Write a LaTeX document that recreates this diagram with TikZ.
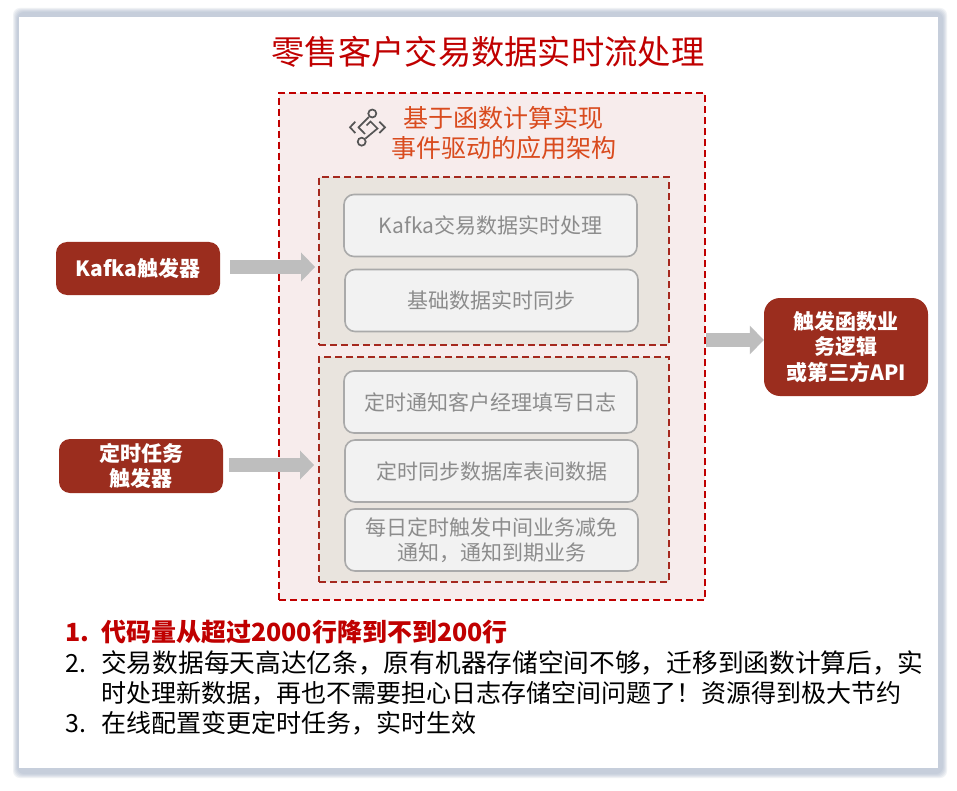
\documentclass[tikz,border=0pt]{standalone}
\usepackage{fontspec}
\setmainfont{Noto Sans CJK SC}
\usepackage{xcolor}
\definecolor{rtred}{RGB}{192,0,0}
\definecolor{rtorange}{RGB}{217,75,30}
\definecolor{rtbrown}{RGB}{155,45,30}
\definecolor{rtdash}{RGB}{165,40,30}
\definecolor{rtpink}{RGB}{247,236,236}
\definecolor{rtsand}{RGB}{233,228,222}
\definecolor{rtgrey}{RGB}{140,140,140}
\definecolor{rtedge}{RGB}{170,170,170}
\definecolor{rtarrow}{RGB}{190,190,190}
\definecolor{rtshadow}{RGB}{150,165,190}
\definecolor{rticon}{RGB}{85,85,85}
\usetikzlibrary{arrows.meta,calc}
\tikzset{
  outerbox/.style={draw=rtred, fill=rtpink, line width=1.8pt, dash pattern=on 7pt off 4pt,
                   minimum width=426pt, minimum height=507pt, inner sep=0pt},
  groupbox/.style={draw=rtdash, fill=rtsand, line width=1.8pt, dash pattern=on 7pt off 4pt,
                   minimum width=350pt, inner sep=0pt},
  taskbox/.style={draw=rtedge, fill=black!5, line width=1.6pt, rounded corners=10pt, text=rtgrey,
                  font=\fontsize{21}{25}\selectfont, align=center,
                  minimum width=293pt, minimum height=62pt, inner sep=0pt},
  trigger/.style={fill=rtbrown, rounded corners=11pt, text=white, align=center,
                  font=\fontsize{21}{25.5}\selectfont\bfseries,
                  minimum width=164pt, inner sep=0pt},
  bigarrow/.style={-{Triangle[length=14pt,width=28pt]}, line width=14pt, rtarrow},
  listtext/.style={anchor=base west, inner sep=0pt, font=\fontsize{25}{30}\selectfont},
  iconline/.style={rticon, line width=1.7pt},
}
\begin{document}
\begin{tikzpicture}[x=1pt, y=-1pt]
\useasboundingbox (0,0) rectangle (957,791);

% Panel and its shadow
\fill[white] (0,0) rectangle (957,791);
\foreach \d in {1,...,5}
  \fill[rtshadow, opacity=0.14, rounded corners=7pt]
    ({12+\d},{7+\d}) rectangle ({948-\d},{779-\d});
\fill[white] (19,17) rectangle (938,768);

% Title
\node[inner sep=0pt, text=rtred, font=\fontsize{33.3}{36}\selectfont] (title) at (488,51.5) {零售客户交易数据实时流处理};

% Dashed frames
\node[outerbox] (outer) at (492,346.5) {};
\node[groupbox, minimum height=168pt] (realgroup) at (494,261) {};
\node[groupbox, minimum height=225pt] (timergroup) at (494,469.5) {};

% Heading
\node[inner sep=0pt, text=rtorange, align=center, font=\fontsize{25}{30}\selectfont] (heading) at (503.5,133)
      {基于函数计算实现\\事件驱动的应用架构};

% Icon
\node[draw=rticon, line width=1.7pt, circle, minimum size=8pt, inner sep=0pt] (icontop) at (372.3,113.5) {};
\node[draw=rticon, line width=1.7pt, circle, minimum size=8pt, inner sep=0pt] (iconbot) at (361.7,141.7) {};
\draw[iconline] (355.3,121.7) -- (350,127.3) -- (355.3,133);
\draw[iconline] (379.3,121.7) -- (385,127.3) -- (379.3,133);
\draw[iconline] (icontop) -- (358.5,127.3) -- (365,134);
\draw[iconline] (iconbot) -- (377.5,128.5) -- (370.5,121.5) -- (366.5,125.5);

% Realtime tasks
\node[taskbox] (kafkatask) at (490.5,225.5) {Kafka交易数据实时处理};
\node[taskbox] (synctask) at (491.5,300.5) {基础数据实时同步};

% Scheduled tasks
\node[taskbox] (logtask) at (490.5,402) {定时通知客户经理填写日志};
\node[taskbox] (dbtask) at (491.5,471) {定时同步数据库表间数据};
\node[taskbox] (duetask) at (491.5,540) {每日定时触发中间业务减免\\通知，通知到期业务};

% Triggers
\node[trigger, minimum height=53pt] (kafka) at (138,268.5) {Kafka触发器};
\node[trigger, minimum height=54pt] (timer) at (141,466) {定时任务\\触发器};
\node[trigger, minimum height=98pt, rounded corners=16pt] (result) at (846,347) {触发函数业\\务逻辑\\或第三方API};

% Arrows
\draw[bigarrow, shorten <=10pt, shorten >=3pt] ([yshift=1.5pt]kafka.east) -- ([yshift=1.5pt]kafka.east -| realgroup.west);
\draw[bigarrow, shorten <=6pt, shorten >=4pt] ([yshift=1pt]timer.east) -- ([yshift=1pt]timer.east -| timergroup.west);
\draw[bigarrow] ([yshift=6.5pt]outer.east) -- ([yshift=6.5pt]outer.east -| result.west);

% Notes
\node[listtext, text=rtred, font=\fontsize{25}{30}\selectfont\bfseries] (num1) at (65,641) {1.};
\node[listtext, text=rtred, font=\fontsize{25}{30}\selectfont\bfseries] (note1) at (101,641) {代码量从超过2000行降到不到200行};
\node[listtext] (num2) at (65,672) {2.};
\node[listtext, font=\fontsize{25.7}{30}\selectfont] (note2) at (101,672) {交易数据每天高达亿条，原有机器存储空间不够，迁移到函数计算后，实};
\node[listtext] (note2b) at (101,702) {时处理新数据，再也不需要担心日志存储空间问题了！资源得到极大节约};
\node[listtext] (num3) at (65,732) {3.};
\node[listtext] (note3) at (101,732) {在线配置变更定时任务，实时生效};

\end{tikzpicture}
\end{document}
